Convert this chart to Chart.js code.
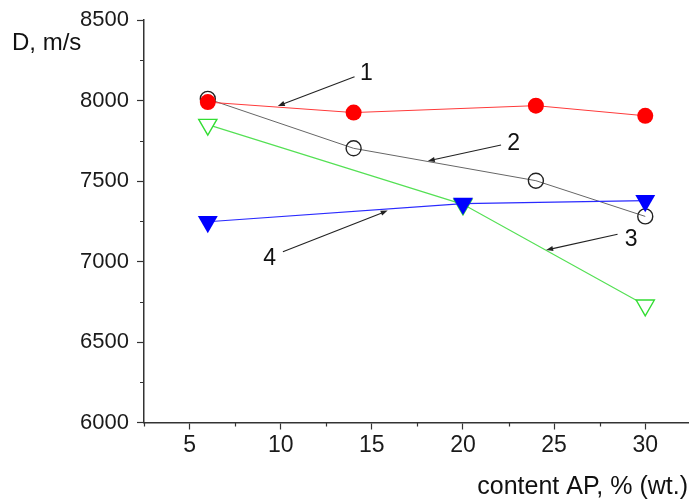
<!DOCTYPE html>
<html><head><meta charset="utf-8">
<script src="https://cdn.jsdelivr.net/npm/chart.js@4"></script>
<style>html,body{margin:0;padding:0;background:#fff;overflow:hidden}</style>
</head><body><canvas id="c" width="689" height="500"></canvas>
<script>
const xSeries1 = [6, 14, 24, 30];
const ySeries1 = [7990, 7925, 7968, 7905];
const xSeries2 = [6, 14, 24, 30];
const ySeries2 = [8010, 7703, 7502, 7280];
const xSeries3 = [6, 20, 30];
const ySeries3 = [7850, 7355, 6728];
const xSeries4 = [6, 20, 30];
const ySeries4 = [7247, 7360, 7378];
const xTicks = [5, 10, 15, 20, 25, 30];
const xMinorTicks = [2.5, 7.5, 12.5, 17.5, 22.5, 27.5];
const yTicks = [6000, 6500, 7000, 7500, 8000, 8500];
const yMinorTicks = [6250, 6750, 7250, 7750, 8250];
const labelNames = ['1', '2', '3', '4'];
const labelAt = [[14.7, 8169], [22.78, 7730], [29.22, 7138], [9.39, 7020]];
const arrowFrom = [[14.05, 8148], [22.09, 7724], [28.48, 7169], [10.12, 7061]];
const arrowTo = [[9.84, 7966], [18.07, 7624], [24.56, 7071], [15.87, 7316]];
const xTitle = 'content AP, % (wt.)';
const yTitle = 'D, m/s';

const FONT = '"Liberation Sans", Arial, sans-serif';
const pts = (xs, ys) => xs.map((x, i) => ({x: x, y: ys[i]}));

const extras = {
  id: 'extras',
  afterDraw(chart) {
    const ctx = chart.ctx;
    const xs = chart.scales.x, ys = chart.scales.y;
    const ca = chart.chartArea;
    ctx.save();
    ctx.strokeStyle = '#333';
    ctx.lineWidth = 1.2;
    ctx.beginPath();
    xMinorTicks.forEach(v => {
      const px = Math.round(xs.getPixelForValue(v)) + 0.5;
      ctx.moveTo(px, ca.bottom); ctx.lineTo(px, ca.bottom + 4);
    });
    yMinorTicks.forEach(v => {
      const py = Math.round(ys.getPixelForValue(v)) + 0.5;
      ctx.moveTo(ca.left, py); ctx.lineTo(ca.left - 4, py);
    });
    ctx.stroke();
    ctx.strokeStyle = '#222';
    ctx.fillStyle = '#222';
    ctx.lineWidth = 1.1;
    arrowFrom.forEach((f, i) => {
      const x0 = xs.getPixelForValue(f[0]), y0 = ys.getPixelForValue(f[1]);
      const x1 = xs.getPixelForValue(arrowTo[i][0]), y1 = ys.getPixelForValue(arrowTo[i][1]);
      const a = Math.atan2(y1 - y0, x1 - x0);
      const L = 7, W = 2.6;
      ctx.beginPath();
      ctx.moveTo(x0, y0);
      ctx.lineTo(x1 - Math.cos(a) * L * 0.8, y1 - Math.sin(a) * L * 0.8);
      ctx.stroke();
      ctx.beginPath();
      ctx.moveTo(x1, y1);
      ctx.lineTo(x1 - Math.cos(a) * L - Math.sin(a) * W, y1 - Math.sin(a) * L + Math.cos(a) * W);
      ctx.lineTo(x1 - Math.cos(a) * L + Math.sin(a) * W, y1 - Math.sin(a) * L - Math.cos(a) * W);
      ctx.closePath();
      ctx.fill();
    });
    ctx.fillStyle = '#111';
    ctx.font = '23px ' + FONT;
    ctx.textAlign = 'center';
    ctx.textBaseline = 'middle';
    labelNames.forEach((t, i) => {
      ctx.fillText(t, xs.getPixelForValue(labelAt[i][0]), ys.getPixelForValue(labelAt[i][1]));
    });
    ctx.font = '24px ' + FONT;
    ctx.textAlign = 'left';
    ctx.fillText(yTitle, 12, 43);
    ctx.font = '25px ' + FONT;
    ctx.textAlign = 'right';
    ctx.fillText(xTitle, 688, 487);
    ctx.restore();
  }
};

new Chart(document.getElementById('c'), {
  type: 'scatter',
  data: {
    datasets: [
      {data: pts(xSeries1, ySeries1), showLine: true, borderColor: '#ff3a3a', borderWidth: 1,
       pointStyle: 'circle', pointRadius: 8, pointBackgroundColor: '#ff0000', pointBorderColor: '#ff0000', pointBorderWidth: 0, order: 1},
      {data: pts(xSeries4, ySeries4), showLine: true, borderColor: '#2a2aff', borderWidth: 1.2,
       pointStyle: 'triangle', rotation: 180, pointRadius: 11.5, pointBackgroundColor: '#0000ff', pointBorderColor: '#0000ff', pointBorderWidth: 0, order: 2},
      {data: pts(xSeries2, ySeries2), showLine: true, borderColor: '#666', borderWidth: 1,
       pointStyle: 'circle', pointRadius: 7.5, pointBackgroundColor: 'rgba(255,255,255,0)', pointBorderColor: '#222', pointBorderWidth: 1.4, order: 3},
      {data: pts(xSeries3, ySeries3), showLine: true, borderColor: '#55e055', borderWidth: 1.2,
       pointStyle: 'triangle', rotation: 180, pointRadius: 10.5, pointBackgroundColor: '#ffffff', pointBorderColor: '#33dd33', pointBorderWidth: 1.4, order: 4}
    ]
  },
  options: {
    responsive: false,
    animation: false,
    devicePixelRatio: 1,
    layout: {autoPadding: false, padding: {top: 20, right: 0, left: 0, bottom: 0}},
    plugins: {legend: {display: false}, tooltip: {enabled: false}},
    scales: {
      x: {
        type: 'linear', min: 2.5, max: 32.4,
        afterBuildTicks: s => { s.ticks = xTicks.map(v => ({value: v})); },
        afterFit: s => { s.height = 77.5; s.paddingLeft = 0; s.paddingRight = 0; },
        border: {display: true, color: '#333', width: 1.5},
        grid: {display: true, drawOnChartArea: false, drawTicks: true, tickLength: 7, tickColor: '#333', tickWidth: 1.2},
        ticks: {color: '#1a1a1a', font: {family: FONT, size: 23}, padding: 2, maxRotation: 0, autoSkip: false,
                callback: v => String(v)}
      },
      y: {
        type: 'linear', min: 6000, max: 8500,
        afterBuildTicks: s => { s.ticks = yTicks.map(v => ({value: v})); },
        afterFit: s => { s.width = 144; s.paddingTop = 0; s.paddingBottom = 0; },
        border: {display: true, color: '#333', width: 1.5},
        grid: {display: true, drawOnChartArea: false, drawTicks: true, tickLength: 7, tickColor: '#333', tickWidth: 1.2},
        ticks: {color: '#1a1a1a', font: {family: FONT, size: 22}, padding: 8, callback: v => String(v)}
      }
    }
  },
  plugins: [extras]
});
</script>
</body></html>
